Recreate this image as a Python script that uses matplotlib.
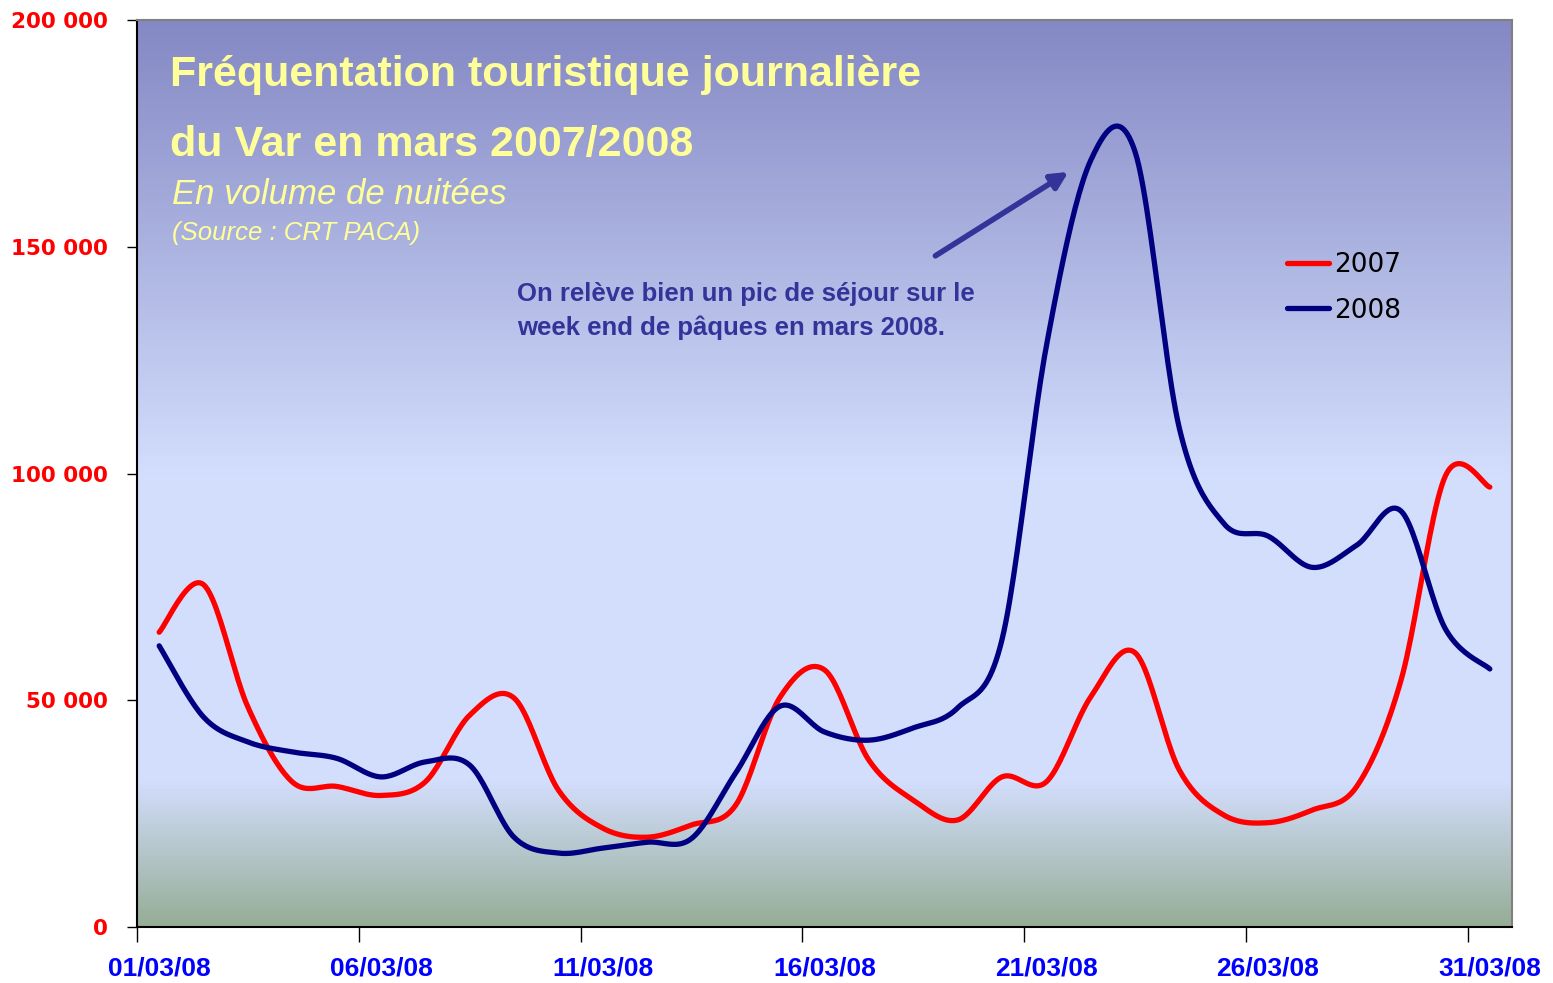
"""
Fréquentation touristique journalière du Var, mars 2007 vs mars 2008.
Excel-style smoothed lines on a gradient plot area.
"""

import numpy as np
import matplotlib
matplotlib.use("Agg")
import matplotlib.pyplot as plt
from matplotlib.colors import LinearSegmentedColormap
from matplotlib.ticker import FuncFormatter, FixedLocator

# ---- data (nuitées per day) ----
days = [f"{d:02d}/03/08" for d in range(1, 32)]
label_every = 5

visits_2007 = [65000, 75500, 48500, 32000, 31000, 29000, 32000, 46700, 50500, 30200,
               21800, 19800, 22500, 26900, 50700, 56700, 36800, 28000, 23600, 33100,
               32000, 50700, 60500, 34600, 24700, 23000, 25800, 31000, 54500, 99500,
               97000]
visits_2008 = [62000, 46300, 40800, 38600, 37200, 33100, 36400, 35700, 19800, 16300,
               17400, 18700, 19500, 34000, 48700, 43000, 41200, 43900, 48300, 63300,
               128000, 169000, 171000, 110000, 89000, 86200, 79300, 84200, 91700, 65700,
               56900]

series_names = ["2007", "2008"]
series_colors = ["#FF0000", "#000080"]

y_ticks = [0, 50000, 100000, 150000, 200000]

TITLE_YELLOW = "#FFFF99"
NOTE_BLUE = "#333399"


def smooth(xs, ys, steps=24):
    """Catmull-Rom style bezier through every point (like Excel's smoothed line)."""
    pts = np.column_stack([xs, ys]).astype(float)
    n = len(pts)
    out = [pts[0]]
    t = np.linspace(0, 1, steps)[1:, None]
    for i in range(n - 1):
        p0 = pts[max(i - 1, 0)]
        p1 = pts[i]
        p2 = pts[i + 1]
        p3 = pts[min(i + 2, n - 1)]
        c1 = p1 + (p2 - p0) / 6.0
        c2 = p2 - (p3 - p1) / 6.0
        seg = ((1 - t) ** 3) * p1 + 3 * ((1 - t) ** 2) * t * c1 \
            + 3 * (1 - t) * t ** 2 * c2 + t ** 3 * p2
        out.extend(seg)
    out = np.array(out)
    return out[:, 0], out[:, 1]


W, H = 1553, 983
fig = plt.figure(figsize=(W / 100, H / 100), dpi=100)
fig.patch.set_facecolor("white")
ax = fig.add_axes([137 / W, 1 - 927 / H, (1512 - 137) / W, (927 - 20) / H])

x = np.arange(len(days))
ax.set_xlim(-0.5, len(days) - 0.5)
ax.set_ylim(0, 200000)

# gradient background (bottom -> top)
grad = LinearSegmentedColormap.from_list(
    "bg", [(0.0, "#96AD96"), (0.16, "#D3DEFD"), (0.50, "#D3DEFD"), (1.0, "#8488C4")])
ax.imshow(np.linspace(0, 1, 256)[:, None], cmap=grad, origin="lower", aspect="auto",
          extent=(0, 1, 0, 1), transform=ax.transAxes, zorder=0)

lines = []
for vals, name, col in zip([visits_2007, visits_2008], series_names, series_colors):
    sx, sy = smooth(x, vals)
    ln, = ax.plot(sx, sy, color=col, lw=3.8, solid_capstyle="round", label=name, zorder=3)
    lines.append(ln)

# axes styling
for side in ["top", "right"]:
    ax.spines[side].set_color("#808080")
    ax.spines[side].set_linewidth(1.5)
for side in ["left", "bottom"]:
    ax.spines[side].set_color("#000000")
    ax.spines[side].set_linewidth(1.5)

ax.set_yticks(y_ticks)
ax.yaxis.set_major_formatter(FuncFormatter(lambda v, _: f"{int(v):,}".replace(",", " ")))
ax.tick_params(axis="y", direction="out", length=7, width=1, pad=14,
               labelcolor="#FF0000", labelsize=15.5)
for lab in ax.get_yticklabels():
    lab.set_fontweight("bold")
    lab.set_family("DejaVu Sans")

label_pos = list(range(0, len(days), label_every))
ax.set_xticks(label_pos)
ax.set_xticklabels([days[i] for i in label_pos], color="#0000FF", fontsize=19,
                   fontweight="bold", family="Liberation Sans")
ax.tick_params(axis="x", which="major", length=0, pad=21)
ax.xaxis.set_minor_locator(FixedLocator([p - 0.5 for p in label_pos]))
ax.tick_params(axis="x", which="minor", direction="out", length=11, width=1)

# titles
fig.text(170 / W, 1 - 75 / H, "Fréquentation touristique journalière", color=TITLE_YELLOW,
         fontsize=31, fontweight="bold", family="Liberation Sans", va="center")
fig.text(170 / W, 1 - 145 / H, "du Var en mars 2007/2008", color=TITLE_YELLOW,
         fontsize=31, fontweight="bold", family="Liberation Sans", va="center")
fig.text(172 / W, 1 - 195 / H, "En volume de nuitées", color=TITLE_YELLOW,
         fontsize=25, style="italic", family="Liberation Sans", va="center")
fig.text(172 / W, 1 - 233 / H, "(Source : CRT PACA)", color=TITLE_YELLOW,
         fontsize=18.5, style="italic", family="Liberation Sans", va="center")

# note + arrow
fig.text(517 / W, 1 - 294 / H, "On relève bien un pic de séjour sur le", color=NOTE_BLUE,
         fontsize=18.5, fontweight="bold", family="Liberation Sans", va="center")
fig.text(517 / W, 1 - 328 / H, "week end de pâques en mars 2008.", color=NOTE_BLUE,
         fontsize=18.5, fontweight="bold", family="Liberation Sans", va="center")
ax.annotate("", xy=(20.5, 166500), xytext=(17.5, 148000),
            arrowprops=dict(arrowstyle="-|>,head_length=1.0,head_width=0.5",
                            color=NOTE_BLUE, lw=4, shrinkA=0, shrinkB=0), zorder=4)

# legend
leg = ax.legend(handles=lines, loc="upper left", bbox_to_anchor=(1263 / W, 1 - 228 / H),
                bbox_transform=fig.transFigure, frameon=False,
                handlelength=1.6, handletextpad=0.2, labelspacing=0.75,
                prop={"family": "DejaVu Sans", "size": 19})

fig.savefig("out.png", dpi=100)
plt.close(fig)
